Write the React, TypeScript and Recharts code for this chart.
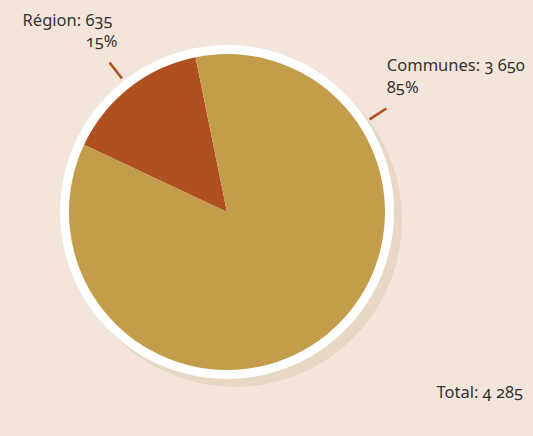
import React from "react";
import { PieChart, Pie, Cell, Customized } from "recharts";

const categories = ["Région", "Communes"];
const values = [635, 3650];
const colors = ["#b04f20", "#c39d4a"];
const totalLabel = "Total";

const data = categories.map((name, i) => ({ name, value: values[i] }));
const total = values.reduce((a, b) => a + b, 0);

const fmt = (n: number) => String(n).replace(/\B(?=(\d{3})+(?!\d))/g, " ");

const W = 533;
const H = 436;
const CX = 227;
const CY = 212;
const R = 158;
const RING = 167;
const FONT = "'Noto Sans', sans-serif";
const FS = 16.5;
const TEXT = "#333333";
const TICK = "#b04f20";
const RAD = Math.PI / 180;
const labelAngles: (number | null)[] = [null, 33];
const style: React.CSSProperties = { fontFeatureSettings: "'onum'" };

const renderLabel = (p: any) => {
  const { cx, cy, midAngle, index, name, value } = p;
  const ang = labelAngles[index] ?? midAngle;
  const r1 = RING + 3;
  const r2 = RING + 23;
  const x1 = cx + r1 * Math.cos(ang * RAD);
  const y1 = cy - r1 * Math.sin(ang * RAD);
  const x2 = cx + r2 * Math.cos(ang * RAD);
  const y2 = cy - r2 * Math.sin(ang * RAD);
  const pct = Math.round((value / total) * 100) + "%";
  const left = x2 < cx;
  return (
    <g key={"lbl" + index}>
      <line x1={x1} y1={y1} x2={x2} y2={y2} stroke={TICK} strokeWidth={2.5} />
      {left ? (
        <>
          <text x={x2 + 3} y={y2 - 37} textAnchor="end" fontFamily={FONT} fontSize={FS} fill={TEXT} style={style}>
            {`${name}: ${fmt(value)}`}
          </text>
          <text x={x2 + 8} y={y2 - 15.5} textAnchor="end" fontFamily={FONT} fontSize={FS} fill={TEXT} style={style}>
            {pct}
          </text>
        </>
      ) : (
        <>
          <text x={x2 + 0.5} y={y2 - 37.5} textAnchor="start" fontFamily={FONT} fontSize={FS} fill={TEXT} style={style}>
            {`${name}: ${fmt(value)}`}
          </text>
          <text x={x2 + 0.5} y={y2 - 16} textAnchor="start" fontFamily={FONT} fontSize={FS} fill={TEXT} style={style}>
            {pct}
          </text>
        </>
      )}
    </g>
  );
};

const TotalText = () => (
  <text x={523} y={398} textAnchor="end" fontFamily={FONT} fontSize={FS} fill={TEXT} style={style}>
    {`${totalLabel}: ${fmt(total)}`}
  </text>
);

export default function App() {
  return (
    <div style={{ position: "absolute", left: 0, top: 0, width: W, height: H, background: "#f4e5da" }}>
      <PieChart width={W} height={H} margin={{ top: 0, right: 0, bottom: 0, left: 0 }}>
        <Pie
          data={[{ name: "shadow", value: 1 }]}
          dataKey="value"
          cx={CX + 8}
          cy={CY + 8}
          outerRadius={RING}
          fill="#e6d8c5"
          stroke="none"
          isAnimationActive={false}
        />
        <Pie
          data={[{ name: "ring", value: 1 }]}
          dataKey="value"
          cx={CX}
          cy={CY}
          outerRadius={RING}
          fill="#ffffff"
          stroke="none"
          isAnimationActive={false}
        />
        <Pie
          data={data}
          dataKey="value"
          nameKey="name"
          cx={CX}
          cy={CY}
          outerRadius={R}
          startAngle={101.5}
          endAngle={461.5}
          stroke="none"
          label={renderLabel}
          labelLine={false}
          isAnimationActive={false}
        >
          {data.map((d, i) => (
            <Cell key={d.name} fill={colors[i]} />
          ))}
        </Pie>
        <Customized component={TotalText} />
      </PieChart>
    </div>
  );
}
